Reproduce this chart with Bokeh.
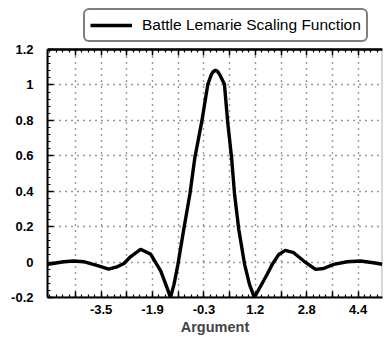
import numpy as np
from bokeh.plotting import figure
from bokeh.models import (Range1d, FixedTicker, LinearAxis, Legend, LegendItem,
                          BoxAnnotation)
from bokeh.embed import file_html
from bokeh.resources import INLINE

# Battle-Lemarie scaling function, sampled values
arg = [-5.14, -4.65, -4.34, -4.04, -3.61, -3.27, -2.99, -2.80, -2.60, -2.29,
       -1.98, -1.67, -1.47, -1.37, -1.26, -1.14, -0.96, -0.77, -0.62, -0.41,
       -0.22, -0.11, -0.05, 0.015, 0.08, 0.14, 0.29, 0.39, 0.51, 0.60,
       0.73, 0.91, 1.06, 1.21, 1.60, 1.76, 1.96, 2.16, 2.42, 2.73,
       3.09, 3.34, 3.65, 4.06, 4.47, 4.87, 5.14]
phi = [-0.012, 0.002, 0.006, 0.002, -0.020, -0.040, -0.025, -0.008, 0.030, 0.072,
       0.045, -0.050, -0.147, -0.200, -0.126, -0.013, 0.185, 0.386, 0.589, 0.790,
       1.004, 1.060, 1.076, 1.083, 1.076, 1.060, 1.004, 0.790, 0.589, 0.386,
       0.185, -0.013, -0.126, -0.200, -0.070, -0.013, 0.043, 0.066, 0.053, 0.006,
       -0.041, -0.036, -0.013, 0.002, 0.006, -0.004, -0.012]

# axis ticks and their labels
x_grid_ticks = [-4.29, -3.50, -2.71, -1.92, -1.13, -0.34, 0.45, 1.24, 2.03, 2.82, 3.61, 4.40]
x_label_ticks = [-3.50, -1.92, -0.34, 1.24, 2.82, 4.40]
x_labels = ["-3.5", "-1.9", "-0.3", "1.2", "2.8", "4.4"]
y_ticks = [-0.2, 0.0, 0.2, 0.4, 0.6, 0.8, 1.0, 1.2]
y_labels = ["-0.2", "0", "0.2", "0.4", "0.6", "0.8", "1", "1.2"]
y_grid_ticks = [0.0, 0.2, 0.4, 0.6, 0.8, 1.0]

X_LO, X_HI = -5.15, 5.15
Y_LO, Y_HI = -0.2, 1.2
Y_VIEW_TOP = 1.477   # headroom above the axes box for the legend

FONT = "Liberation Sans"

p = figure(width=384, height=341,
           x_range=Range1d(X_LO, X_HI), y_range=Range1d(Y_LO, Y_VIEW_TOP),
           output_backend="svg", toolbar_location=None,
           min_border_left=47, min_border_right=2,
           min_border_top=0, min_border_bottom=44,
           background_fill_color="white", border_fill_color="white")
p.xaxis.visible = False
p.yaxis.visible = False
p.outline_line_color = None

x_step = x_grid_ticks[1] - x_grid_ticks[0]
x_minor = list(np.arange(x_grid_ticks[0] - x_step, x_grid_ticks[-1] + x_step, x_step / 4))
y_minor = list(np.arange(Y_LO, Y_HI + 0.0001, 0.04))

x_overrides = {t: "" for t in x_grid_ticks}
for t, lab in zip(x_label_ticks, x_labels):
    x_overrides[t] = lab
y_overrides = {t: lab for t, lab in zip(y_ticks, y_labels)}


def style_axis(ax, label_size="13px"):
    ax.axis_line_color = "black"
    ax.axis_line_width = 2
    ax.major_tick_in = 6
    ax.major_tick_out = 0
    ax.minor_tick_in = 3
    ax.minor_tick_out = 0
    ax.major_tick_line_width = 1.5
    ax.minor_tick_line_width = 1.2
    ax.major_label_text_font = FONT
    ax.major_label_text_font_style = "bold"
    ax.major_label_text_font_size = label_size
    ax.major_label_text_color = "black"


# dotted grid
p.xgrid.ticker = FixedTicker(ticks=x_grid_ticks)
p.ygrid.ticker = FixedTicker(ticks=y_grid_ticks)
for g in (p.xgrid[0], p.ygrid[0]):
    g.grid_line_color = "black"
    g.grid_line_width = 1.4
    g.grid_line_dash = "1 5"
    g.grid_line_alpha = 0.8

# blank strip above the axes box (hides grid there)
p.add_layout(BoxAnnotation(bottom=Y_HI, fill_color="white", fill_alpha=1,
                           line_color=None, level="underlay"))

r = p.line(arg, phi, line_color="black", line_width=3.4)

xb = LinearAxis(ticker=FixedTicker(ticks=x_grid_ticks, minor_ticks=x_minor),
                major_label_overrides=x_overrides,
                axis_label="Argument")
style_axis(xb)
xb.major_label_standoff = 7
xb.axis_label_standoff = 2
xb.axis_label_text_font = FONT
xb.axis_label_text_font_style = "bold"
xb.axis_label_text_font_size = "14.5px"
p.add_layout(xb, "below")

# top edge of the axes box: long and short inward ticks, no labels
for tick_pos, tick_len in ((x_grid_ticks, 6), (x_minor, 3)):
    xt = LinearAxis(ticker=FixedTicker(ticks=[], minor_ticks=tick_pos),
                    fixed_location=Y_HI)
    style_axis(xt)
    xt.minor_tick_in = tick_len
    xt.minor_tick_line_width = 1.5 if tick_len > 3 else 1.2
    xt.major_label_standoff = 0
    p.add_layout(xt, "above")

yl = LinearAxis(ticker=FixedTicker(ticks=y_ticks, minor_ticks=y_minor),
                major_label_overrides=y_overrides, bounds=(Y_LO, Y_HI))
style_axis(yl)
yl.major_label_standoff = 14
p.add_layout(yl, "left")

# outline of the axes box
p.add_layout(BoxAnnotation(left=X_LO, right=X_HI, bottom=Y_LO, top=Y_HI,
                           fill_alpha=0, line_color="black", line_width=2,
                           level="overlay"))

legend = Legend(items=[LegendItem(label="Battle Lemarie Scaling Function", renderers=[r])],
                location=(36, 255), orientation="horizontal",
                border_line_color="black", border_line_width=2.5,
                background_fill_color="white", background_fill_alpha=1,
                label_text_font=FONT, label_text_font_size="15.5px",
                label_text_color="black",
                glyph_width=42, glyph_height=20, label_height=20,
                label_standoff=10, padding=5, margin=0, spacing=0)
if "border_radius" in Legend.properties():
    legend.border_radius = 6
p.add_layout(legend)

open("out.html", "w").write(file_html(p, INLINE))
